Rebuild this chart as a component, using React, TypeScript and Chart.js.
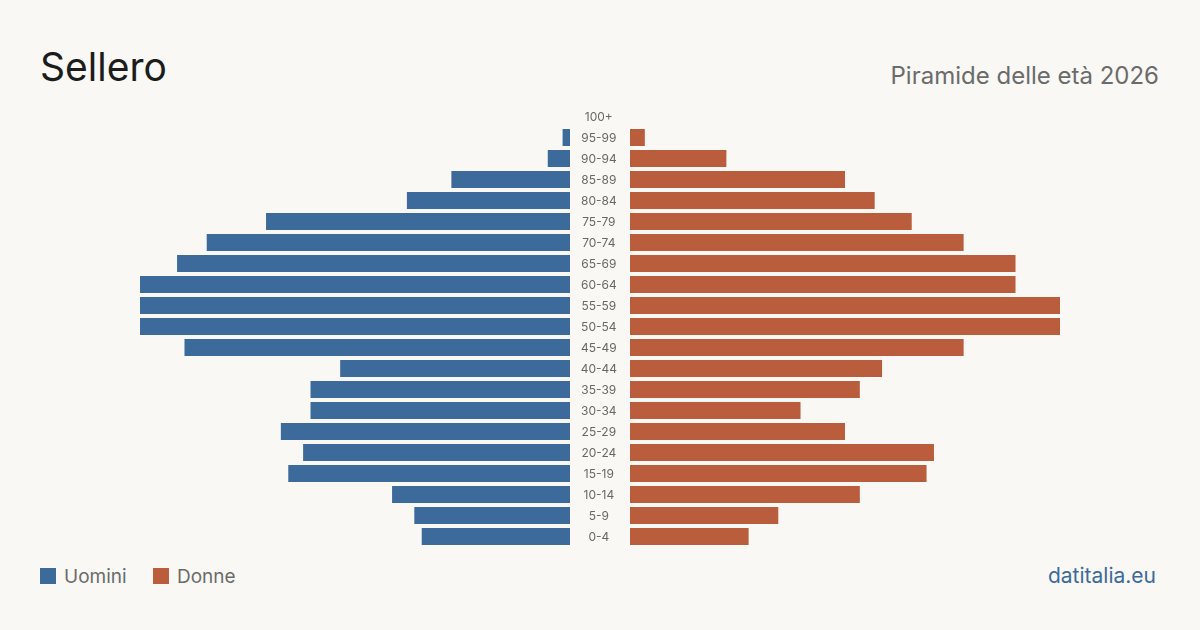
import { useEffect, useRef } from "react";
import { Chart, registerables } from "chart.js";

Chart.register(...registerables);

// Age classes, oldest at the top
const ageGroups = [
  "100+", "95-99", "90-94", "85-89", "80-84", "75-79", "70-74", "65-69",
  "60-64", "55-59", "50-54", "45-49", "40-44", "35-39", "30-34", "25-29",
  "20-24", "15-19", "10-14", "5-9", "0-4",
];

// Residents per age class
const maleCounts = [0, 1, 3, 16, 22, 41, 49, 53, 58, 58, 58, 52, 31, 35, 35, 39, 36, 38, 24, 21, 20];
const femaleCounts = [0, 2, 13, 29, 33, 38, 45, 52, 52, 58, 58, 45, 34, 31, 23, 29, 41, 40, 31, 20, 16];

// Both halves share the same scale
const axisMax = 58;

const BG = "#f9f8f4";
const BLUE = "#3c6b9b";
const ORANGE = "#b95d3d";
const FONT = "Inter, 'Noto Sans', sans-serif";

function baseOptions(reverse: boolean): any {
  return {
    indexAxis: "y",
    animation: false,
    responsive: false,
    devicePixelRatio: 1,
    layout: { padding: 0 },
    plugins: { legend: { display: false }, tooltip: { enabled: false } },
    scales: {
      x: { type: "linear", min: 0, max: axisMax, reverse, display: false },
      y: { display: false },
    },
  };
}

export default function App() {
  const leftRef = useRef<HTMLCanvasElement>(null);
  const rightRef = useRef<HTMLCanvasElement>(null);

  useEffect(() => {
    const men = new Chart(leftRef.current!, {
      type: "bar",
      data: {
        labels: ageGroups,
        datasets: [
          {
            label: "Uomini",
            data: maleCounts,
            backgroundColor: BLUE,
            borderWidth: 0,
            barPercentage: 0.81,
            categoryPercentage: 1,
          },
        ],
      },
      options: baseOptions(true),
    });

    // The age labels sit in the gap between the two halves, as the y axis of the right half
    const rightOpts = baseOptions(false);
    rightOpts.scales.y = {
      display: true,
      position: "left",
      grid: { display: false, drawTicks: true, tickLength: 13 },
      border: { display: false },
      ticks: {
        color: "#686868",
        font: { family: FONT, size: 12 },
        crossAlign: "center",
        padding: 0,
        labelOffset: 1,
        autoSkip: false,
      },
      afterFit: (scale: any) => {
        scale.width = 60;
        scale.paddingTop = 0;
        scale.paddingBottom = 0;
      },
    };

    const women = new Chart(rightRef.current!, {
      type: "bar",
      data: {
        labels: ageGroups,
        datasets: [
          {
            label: "Donne",
            data: femaleCounts,
            backgroundColor: ORANGE,
            borderWidth: 0,
            barPercentage: 0.81,
            categoryPercentage: 1,
          },
        ],
      },
      options: rightOpts,
    });

    return () => {
      men.destroy();
      women.destroy();
    };
  }, []);

  const text = (size: number, baseline: number): React.CSSProperties => ({
    position: "absolute",
    fontSize: size,
    lineHeight: `${size}px`,
    top: baseline - 0.864 * size,
    whiteSpace: "nowrap",
    fontFamily: FONT,
  });

  return (
    <div
      style={{
        position: "fixed",
        left: 0,
        top: 0,
        width: 1200,
        height: 630,
        background: BG,
        overflow: "hidden",
      }}
    >
      <div style={{ ...text(39, 81), left: 40, color: "#1c1c1c" }}>Sellero</div>
      <div style={{ ...text(24, 85), right: 41, color: "#6b6b6b" }}>Piramide delle età 2026</div>

      <canvas
        ref={leftRef}
        width={430}
        height={441}
        style={{ position: "absolute", left: 140, top: 106, width: 430, height: 441 }}
      />
      <canvas
        ref={rightRef}
        width={490}
        height={441}
        style={{ position: "absolute", left: 570, top: 106, width: 490, height: 441 }}
      />

      <div style={{ position: "absolute", left: 40, top: 568, width: 16, height: 16, background: BLUE }} />
      <div style={{ ...text(19, 583), left: 64, color: "#6b6b6b" }}>Uomini</div>
      <div style={{ position: "absolute", left: 153, top: 568, width: 16, height: 16, background: ORANGE }} />
      <div style={{ ...text(19, 583), left: 177, color: "#6b6b6b" }}>Donne</div>

      <div style={{ ...text(21, 583), right: 44, color: BLUE }}>datitalia.eu</div>
    </div>
  );
}
